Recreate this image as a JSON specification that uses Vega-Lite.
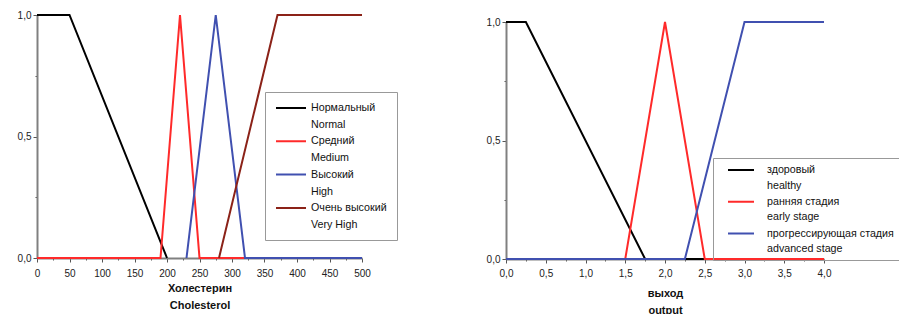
{
  "$schema": "https://vega.github.io/schema/vega-lite/v6.json",
  "padding": {"left": 17, "top": 10, "right": 3, "bottom": 0},
  "spacing": 88,
  "background": "white",
  "resolve": {"scale": {"color": "independent"}, "legend": {"color": "independent"}},
  "config": {
    "font": "Liberation Sans",
    "view": {"stroke": null},
    "axis": {
      "domainColor": "#808080",
      "domainWidth": 2,
      "tickColor": "#555555",
      "tickSize": 4,
      "labelFontSize": 10,
      "labelColor": "#222222",
      "labelPadding": 2,
      "labelFlush": false,
      "grid": false,
      "titleFontSize": 11,
      "titleFontWeight": "bold",
      "titleColor": "#111111",
      "titleLineHeight": 17
    },
    "legend": {
      "labelFont": "Liberation Sans",
      "labelColor": "#111111"
    }
  },
  "hconcat": [
    {
      "width": 325,
      "height": 243,
      "data": {"values": [
        {"s": "Нормальный|Normal", "x": 0, "y": 1},
        {"s": "Нормальный|Normal", "x": 50, "y": 1},
        {"s": "Нормальный|Normal", "x": 200, "y": 0},
        {"s": "Средний|Medium", "x": 0, "y": 0},
        {"s": "Средний|Medium", "x": 190, "y": 0},
        {"s": "Средний|Medium", "x": 220, "y": 1},
        {"s": "Средний|Medium", "x": 250, "y": 0},
        {"s": "Средний|Medium", "x": 500, "y": 0},
        {"s": "Высокий|High", "x": 230, "y": 0},
        {"s": "Высокий|High", "x": 275, "y": 1},
        {"s": "Высокий|High", "x": 320, "y": 0},
        {"s": "Высокий|High", "x": 500, "y": 0},
        {"s": "Очень высокий|Very High", "x": 280, "y": 0},
        {"s": "Очень высокий|Very High", "x": 370, "y": 1},
        {"s": "Очень высокий|Very High", "x": 500, "y": 1}
      ]},
      "resolve": {"axis": {"x": "independent", "y": "independent"}},
      "layer": [
        {
          "mark": {"type": "line", "opacity": 0},
          "encoding": {
            "x": {"field": "x", "type": "quantitative",
              "axis": {"orient": "bottom", "values": [25, 75, 125, 175, 225, 275, 325, 375, 425, 475], "labels": false, "title": null, "domain": false, "tickSize": 2}},
            "y": {"field": "y", "type": "quantitative",
              "axis": {"orient": "left", "values": [0.25, 0.75], "labels": false, "title": null, "domain": false, "tickSize": 2}},
            "detail": {"field": "s"}
          }
        },
        {
          "mark": {"type": "line", "strokeWidth": 2},
          "encoding": {
            "x": {"field": "x", "type": "quantitative",
              "scale": {"domain": [0, 500], "nice": false, "zero": false},
              "axis": {"orient": "bottom", "values": [0, 50, 100, 150, 200, 250, 300, 350, 400, 450, 500], "title": ["Холестерин", "Cholesterol"], "labelPadding": 6, "titlePadding": 4}},
            "y": {"field": "y", "type": "quantitative",
              "scale": {"domain": [0, 1], "nice": false},
              "axis": {"orient": "left", "values": [0, 0.5, 1], "title": null, "labelExpr": "replace(format(datum.value, '.1f'), '.', ',')"}},
            "color": {"field": "s", "type": "nominal",
              "scale": {"domain": ["Нормальный|Normal", "Средний|Medium", "Высокий|High", "Очень высокий|Very High"], "range": ["#000000", "#ff2a2a", "#4050b0", "#8b2218"]},
              "legend": {
                "orient": "none", "legendX": 228, "legendY": 77,
                "title": null, "symbolType": "stroke", "symbolSize": 900, "symbolStrokeWidth": 2,
                "labelFontSize": 10.7, "labelLimit": 0, "labelExpr": "split(datum.label, '|')",
                "labelBaseline": "top", "clipHeight": 12, "rowPadding": 5.3,
                "strokeColor": "#999999", "padding": 10,
                "encode": {"labels": {"update": {"lineHeight": {"value": 17}, "dy": {"value": -5}}}}
              }}
          }
        }
      ]
    },
    {
      "width": 318,
      "height": 244,
      "data": {"values": [
        {"s": "здоровый|healthy", "x": 0, "y": 1},
        {"s": "здоровый|healthy", "x": 0.25, "y": 1},
        {"s": "здоровый|healthy", "x": 1.75, "y": 0},
        {"s": "здоровый|healthy", "x": 2.5, "y": 0},
        {"s": "ранняя стадия|early stage", "x": 1.5, "y": 0},
        {"s": "ранняя стадия|early stage", "x": 2, "y": 1},
        {"s": "ранняя стадия|early stage", "x": 2.5, "y": 0},
        {"s": "ранняя стадия|early stage", "x": 4, "y": 0},
        {"s": "прогрессирующая стадия|advanced stage", "x": 0, "y": 0},
        {"s": "прогрессирующая стадия|advanced stage", "x": 2.25, "y": 0},
        {"s": "прогрессирующая стадия|advanced stage", "x": 3, "y": 1},
        {"s": "прогрессирующая стадия|advanced stage", "x": 4, "y": 1}
      ]},
      "resolve": {"axis": {"x": "independent", "y": "independent"}},
      "layer": [
        {
          "mark": {"type": "line", "opacity": 0},
          "encoding": {
            "x": {"field": "x", "type": "quantitative",
              "axis": {"orient": "bottom", "values": [0.25, 0.75, 1.25, 1.75, 2.25, 2.75, 3.25, 3.75], "labels": false, "title": null, "domain": false, "tickSize": 2}},
            "y": {"field": "y", "type": "quantitative",
              "axis": {"orient": "left", "values": [0.25, 0.75], "labels": false, "title": null, "domain": false, "tickSize": 2}},
            "detail": {"field": "s"}
          }
        },
        {
          "mark": {"type": "line", "strokeWidth": 2},
          "encoding": {
            "x": {"field": "x", "type": "quantitative",
              "scale": {"domain": [0, 4], "nice": false},
              "axis": {"orient": "bottom", "values": [0, 0.5, 1, 1.5, 2, 2.5, 3, 3.5, 4], "title": ["выход", "output"], "labelPadding": 5, "titlePadding": 9, "labelExpr": "replace(format(datum.value, '.1f'), '.', ',')"}},
            "y": {"field": "y", "type": "quantitative",
              "scale": {"domain": [0, 1], "nice": false, "range": [244, 7]},
              "axis": {"orient": "left", "values": [0, 0.5, 1], "title": null, "labelExpr": "replace(format(datum.value, '.1f'), '.', ',')"}},
            "color": {"field": "s", "type": "nominal",
              "scale": {"domain": ["здоровый|healthy", "ранняя стадия|early stage", "прогрессирующая стадия|advanced stage"], "range": ["#000000", "#ff2a2a", "#4050b0"]},
              "legend": {
                "orient": "none", "legendX": 207, "legendY": 143,
                "title": null, "symbolType": "stroke", "symbolSize": 676, "symbolStrokeWidth": 2,
                "symbolOffset": 8, "labelOffset": 12,
                "labelFontSize": 10.7, "labelLimit": 0, "labelExpr": "split(datum.label, '|')",
                "labelBaseline": "top", "clipHeight": 12, "rowPadding": 4.8,
                "strokeColor": "#999999", "padding": 6,
                "encode": {"labels": {"update": {"lineHeight": {"value": 15.5}, "dy": {"value": -5}}}}
              }}
          }
        }
      ]
    }
  ]
}
